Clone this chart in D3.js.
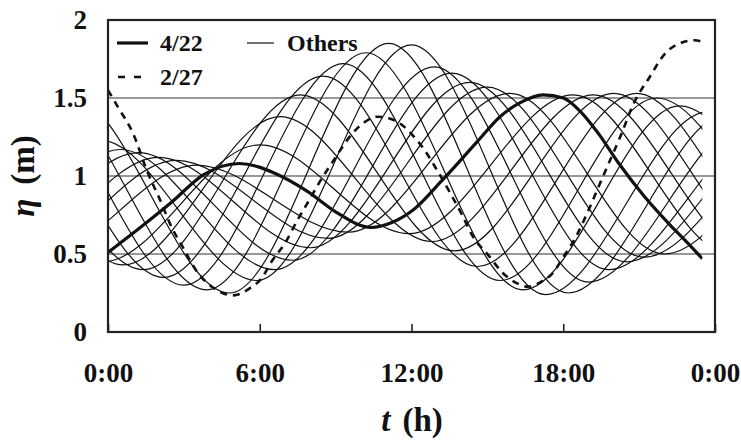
<!DOCTYPE html>
<html>
<head>
<meta charset="utf-8">
<script src="https://cdn.jsdelivr.net/npm/d3@7"></script>
<style>
  body { margin: 0; background: #fff; }
  svg { display: block; }
  text { font-family: "Liberation Serif", "Times New Roman", serif; font-weight: bold; fill: #111; }
</style>
</head>
<body>
<div id="chart"></div>
<script>
// tick values
var hourTicks = [0, 6, 12, 18, 24];
var etaTicks = [0, 0.5, 1, 1.5, 2];
var gridVals = [0.5, 1, 1.5];
var legendLabels = ["4/22", "2/27", "Others"];

// 4/22 (bold)
var t422 = [0, 1.2, 2.5, 3.8, 5.2, 6.7, 7.9, 9.0, 10.4, 11.2, 12.05, 13.2, 14.6, 15.5, 16.3, 17.2, 18.0, 18.7, 19.4, 20.2, 21.2, 22.2, 22.8, 23.5];
var eta422 = [0.51, 0.66, 0.83, 1.01, 1.08, 1.01, 0.9, 0.77, 0.67, 0.7, 0.78, 0.97, 1.22, 1.38, 1.47, 1.52, 1.5, 1.41, 1.27, 1.08, 0.87, 0.69, 0.59, 0.47];

// 2/27 (dashed)
var t227 = [0, 0.4, 1.0, 1.55, 2.05, 2.55, 2.9, 3.55, 4.1, 4.6, 4.95, 5.6, 6.05, 6.5, 7.0, 7.5, 7.9, 8.4, 9.0, 9.6, 10.1, 10.65, 11.1, 11.6, 12.05, 12.5, 13.0, 13.5, 14.0, 14.4, 15.05, 15.6, 16.2, 16.6, 17.1, 17.6, 18.0, 18.5, 19.05, 19.5, 20.3, 20.8, 21.4, 22.0, 22.6, 23.2, 23.5];
var eta227 = [1.55, 1.44, 1.27, 1.03, 0.85, 0.66, 0.56, 0.38, 0.29, 0.245, 0.235, 0.28, 0.34, 0.46, 0.57, 0.72, 0.83, 0.97, 1.12, 1.26, 1.34, 1.38, 1.37, 1.33, 1.26, 1.17, 1.04, 0.9, 0.75, 0.62, 0.49, 0.38, 0.31, 0.29, 0.32, 0.38, 0.48, 0.61, 0.8, 0.97, 1.27, 1.47, 1.63, 1.78, 1.85, 1.87, 1.86];

// other days: high/low turning points (first and last ones lie outside the 0-23.5 h window)
var othersT = [
  [-12.6, -6.4, -0.2, 6.0, 11.9, 18.4, 24.6, 30.8],
  [-11.8, -5.6, 0.6, 6.8, 12.8, 19.2, 25.4, 31.6],
  [-11.1, -4.9, 1.4, 7.6, 13.7, 20.0, 26.2, 32.4],
  [-10.2, -4.0, 2.2, 8.5, 14.6, 20.9, 27.0, 33.2],
  [-9.4, -3.2, 3.0, 9.3, 15.5, 21.7, 28.0, 34.2],
  [-8.6, -2.4, 3.9, 10.2, 16.4, 22.6, 28.8, 35.0],
  [-7.6, -1.4, 4.8, 11.1, 17.3, 23.7, 29.7, 35.9],
  [-6.5, -0.3, 5.9, 12.0, 18.2, 24.5, 30.7],
  [-11.9, -5.7, 0.5, 6.6, 12.9, 19.0, 25.3, 31.5],
  [-11.2, -5.0, 1.2, 7.3, 13.6, 19.8, 26.0, 32.2],
  [-10.4, -4.2, 2.0, 8.0, 14.3, 20.5, 26.7, 32.9],
  [-9.7, -3.5, 2.7, 8.7, 15.0, 21.2, 27.4, 33.6],
  [-8.9, -2.7, 3.5, 9.5, 15.9, 22.0, 28.2, 34.4]
];
var othersEta = [
  [0.50, 1.40, 0.45, 1.20, 0.63, 1.52, 0.50, 1.45],
  [0.50, 1.45, 0.43, 1.38, 0.58, 1.52, 0.50, 1.45],
  [0.50, 1.45, 0.40, 1.52, 0.52, 1.53, 0.50, 1.45],
  [0.50, 1.50, 0.35, 1.64, 0.42, 1.53, 0.50, 1.45],
  [0.50, 1.55, 0.30, 1.72, 0.33, 1.50, 0.50, 1.45],
  [0.50, 1.55, 0.27, 1.79, 0.27, 1.45, 0.50, 1.45],
  [0.50, 1.50, 0.25, 1.85, 0.24, 1.41, 0.50, 1.45],
  [0.45, 1.23, 0.33, 1.84, 0.25, 1.40, 0.50],
  [1.40, 0.45, 1.17, 0.40, 1.70, 0.32, 1.35, 0.50],
  [1.40, 0.45, 1.15, 0.46, 1.66, 0.40, 1.30, 0.50],
  [1.40, 0.45, 1.12, 0.54, 1.60, 0.45, 1.30, 0.50],
  [1.40, 0.46, 1.10, 0.60, 1.57, 0.48, 1.30, 0.50],
  [1.40, 0.47, 1.07, 0.64, 1.53, 0.50, 1.30, 0.50]
];

var width = 741, height = 440;
var x = d3.scaleLinear().domain([0, 24]).range([108, 715]);
var y = d3.scaleLinear().domain([0, 2]).range([332, 20]);

var svg = d3.select("#chart").append("svg")
  .attr("width", width)
  .attr("height", height);

svg.append("defs").append("clipPath").attr("id", "clip")
  .append("rect")
  .attr("x", x(0)).attr("y", y(2))
  .attr("width", x(23.5) - x(0))
  .attr("height", y(0) - y(2));

//Horizontal gridlines
svg.append("g").selectAll("line")
  .data(gridVals)
  .enter().append("line")
  .attr("x1", x(0)).attr("x2", x(24))
  .attr("y1", function(d){ return y(d); })
  .attr("y2", function(d){ return y(d); })
  .attr("stroke", "#333")
  .attr("stroke-width", 1.2);

var line = d3.line()
  .x(function(d){ return x(d[0]); })
  .y(function(d){ return y(d[1]); })
  .curve(d3.curveMonotoneX);

var zip = function(ts, vs){ return ts.map(function(t, i){ return [t, vs[i]]; }); };

var plot = svg.append("g").attr("clip-path", "url(#clip)");

plot.selectAll("path.other")
  .data(othersT.map(function(ts, i){ return zip(ts, othersEta[i]); }))
  .enter().append("path")
  .attr("class", "other")
  .attr("d", line)
  .attr("fill", "none")
  .attr("stroke", "#111")
  .attr("stroke-width", 1.2);

plot.append("path")
  .attr("d", line(zip(t227, eta227)))
  .attr("fill", "none")
  .attr("stroke", "#111")
  .attr("stroke-width", 2.6)
  .attr("stroke-dasharray", "7,6");

plot.append("path")
  .attr("d", line(zip(t422, eta422)))
  .attr("fill", "none")
  .attr("stroke", "#111")
  .attr("stroke-width", 3.2);

//Axes
var xAxis = svg.append("g")
  .attr("transform", "translate(0," + y(0) + ")")
  .call(d3.axisBottom(x)
    .tickValues(hourTicks)
    .tickSize(-8)
    .tickPadding(31)
    .tickFormat(function(d){ return (d % 24) + ":00"; }));
xAxis.select(".domain").remove();
xAxis.selectAll("line").attr("stroke", "#222").attr("stroke-width", 1.6);
xAxis.selectAll("text")
  .attr("font-size", 27)
  .attr("font-family", "'Liberation Serif', 'Times New Roman', serif")
  .attr("font-weight", "bold");

var yAxis = svg.append("g")
  .attr("transform", "translate(" + x(0) + ",0)")
  .call(d3.axisLeft(y)
    .tickValues(etaTicks)
    .tickSize(0)
    .tickPadding(21)
    .tickFormat(function(d){ return String(d); }));
yAxis.select(".domain").remove();
yAxis.selectAll("text")
  .attr("font-size", 27)
  .attr("font-family", "'Liberation Serif', 'Times New Roman', serif")
  .attr("font-weight", "bold");

//Plot frame
svg.append("rect")
  .attr("x", x(0)).attr("y", y(2))
  .attr("width", x(24) - x(0))
  .attr("height", y(0) - y(2))
  .attr("fill", "none")
  .attr("stroke", "#222")
  .attr("stroke-width", 2.2);

//Axis titles
var xt = svg.append("text")
  .attr("x", 412).attr("y", 431)
  .attr("text-anchor", "middle")
  .attr("font-size", 33);
xt.append("tspan").attr("font-style", "italic").text("t");
xt.append("tspan").attr("dx", 12).text("(h)");

var yt = svg.append("text")
  .attr("transform", "translate(34,176) rotate(-90)")
  .attr("text-anchor", "middle")
  .attr("font-size", 33);
yt.append("tspan").attr("font-style", "italic").text("η");
yt.append("tspan").attr("dx", 14).text("(m)");

//Legend
var leg = svg.append("g");
leg.append("line")
  .attr("x1", 117).attr("x2", 148).attr("y1", 43).attr("y2", 43)
  .attr("stroke", "#111").attr("stroke-width", 3.2);
leg.append("line")
  .attr("x1", 118).attr("x2", 141).attr("y1", 77).attr("y2", 77)
  .attr("stroke", "#111").attr("stroke-width", 2.6)
  .attr("stroke-dasharray", "7,9");
leg.append("line")
  .attr("x1", 247).attr("x2", 274).attr("y1", 43).attr("y2", 43)
  .attr("stroke", "#111").attr("stroke-width", 1.2);
leg.selectAll("text")
  .data(legendLabels)
  .enter().append("text")
  .attr("x", function(d, i){ return i == 2 ? 287 : 160; })
  .attr("y", function(d, i){ return i == 1 ? 77 : 43; })
  .attr("dy", "0.35em")
  .attr("font-size", 24)
  .text(function(d){ return d; });
</script>
</body>
</html>
